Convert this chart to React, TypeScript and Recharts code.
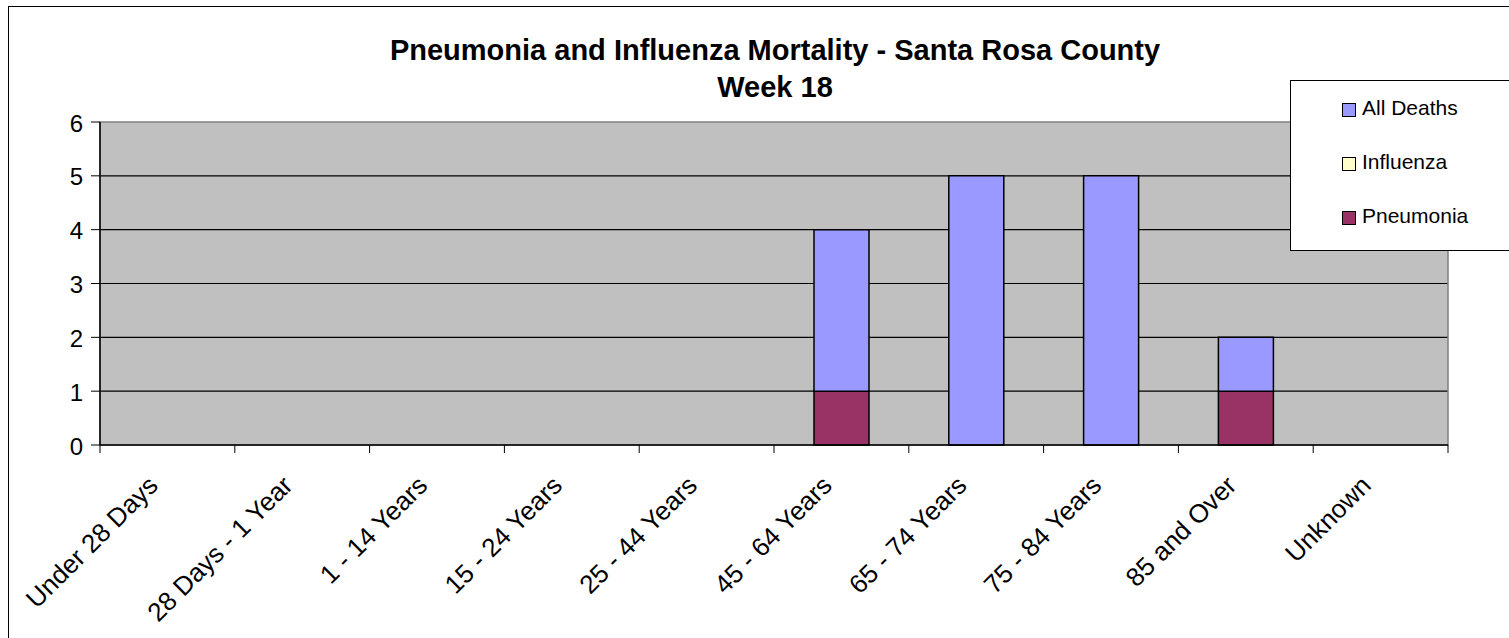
import { BarChart, Bar, XAxis, YAxis, CartesianGrid, ReferenceArea } from "recharts";

const categories = [
  "Under 28 Days",
  "28 Days - 1 Year",
  "1 - 14 Years",
  "15 - 24 Years",
  "25 - 44 Years",
  "45 - 64 Years",
  "65 - 74 Years",
  "75 - 84 Years",
  "85 and Over",
  "Unknown",
];
const pneumonia = [0, 0, 0, 0, 0, 1, 0, 0, 1, 0];
const influenza = [0, 0, 0, 0, 0, 0, 0, 0, 0, 0];
const allDeaths = [0, 0, 0, 0, 0, 3, 5, 5, 1, 0];
const yTicks = [0, 1, 2, 3, 4, 5, 6];

const series = [
  { key: "pneumonia", name: "Pneumonia", color: "#993366" },
  { key: "influenza", name: "Influenza", color: "#FFFFCC" },
  { key: "allDeaths", name: "All Deaths", color: "#9999FF" },
];

const data = categories.map((c, i) => ({
  name: c,
  pneumonia: pneumonia[i],
  influenza: influenza[i],
  allDeaths: allDeaths[i],
}));

const FONT = "Arial, 'Liberation Sans', sans-serif";

// category label + tick marks on the band edges (Excel style)
function CategoryTick(props: any) {
  const { x, y, payload, index, visibleTicksCount, width } = props;
  const half =
    payload && typeof payload.offset === "number" && payload.offset > 0
      ? payload.offset
      : width / visibleTicksCount / 2;
  const tx = x - 8;
  const ty = y + 42;
  const last = index === visibleTicksCount - 1;
  return (
    <g>
      <line x1={x - half} x2={x - half} y1={y} y2={y + 8} stroke="#000" strokeWidth={1} />
      {last && <line x1={x + half} x2={x + half} y1={y} y2={y + 8} stroke="#000" strokeWidth={1} />}
      <text
        x={tx}
        y={ty}
        transform={`rotate(-45, ${tx}, ${ty})`}
        textAnchor="end"
        fontSize={26}
        fontFamily={FONT}
        fill="#000"
      >
        {payload.value}
      </text>
    </g>
  );
}

function LegendBox() {
  const items = [...series].reverse();
  return (
    <div
      style={{
        position: "absolute",
        left: 1290,
        top: 80,
        width: 230,
        height: 171,
        border: "1.5px solid #000",
        background: "#fff",
        boxSizing: "border-box",
        fontFamily: FONT,
        fontSize: 21,
      }}
    >
      {items.map((it) => (
        <div
          key={it.key}
          style={{ display: "flex", alignItems: "center", height: 54, paddingLeft: 51 }}
        >
          <span
            style={{
              width: 12,
              height: 12,
              background: it.color,
              border: "1px solid #000",
              marginRight: 6,
              marginTop: 3,
            }}
          />
          {it.name}
        </div>
      ))}
    </div>
  );
}

export default function App() {
  return (
    <div
      style={{
        position: "absolute",
        left: 0,
        top: 0,
        width: 1509,
        height: 638,
        overflow: "hidden",
        background: "#fff",
      }}
    >
      <div
        style={{
          position: "absolute",
          left: 8,
          top: 6,
          width: 1600,
          height: 700,
          border: "1.5px solid #000",
        }}
      />
      <div
        style={{
          position: "absolute",
          left: 0,
          top: 32,
          width: 1550,
          textAlign: "center",
          fontFamily: FONT,
          fontWeight: "bold",
          fontSize: 29,
          lineHeight: "37px",
        }}
      >
        Pneumonia and Influenza Mortality - Santa Rosa County
        <br />
        Week 18
      </div>
      <div style={{ position: "absolute", left: 0, top: 0 }}>
        <BarChart
          width={1509}
          height={638}
          data={data}
          margin={{ top: 122, right: 61, bottom: 43, left: 40 }}
          barSize={55}
        >
          <CartesianGrid
            vertical={false}
            fill="#C0C0C0"
            fillOpacity={1}
            stroke="#000"
            strokeWidth={1.2}
            horizontalValues={[1, 2, 3, 4, 5]}
          />
          <ReferenceArea y1={0} y2={6} fill="none" stroke="#808080" strokeWidth={1.5} />
          <XAxis
            dataKey="name"
            interval={0}
            height={150}
            tickSize={0}
            tickMargin={0}
            axisLine={{ stroke: "#000", strokeWidth: 1.5 }}
            tickLine={false}
            tick={<CategoryTick />}
          />
          <YAxis
            domain={[0, 6]}
            ticks={yTicks}
            interval={0}
            width={60}
            tickSize={9}
            tickMargin={8}
            axisLine={{ stroke: "#000", strokeWidth: 1.5 }}
            tickLine={{ stroke: "#000" }}
            tick={{ fill: "#000", fontSize: 24, fontFamily: FONT, dy: 1 }}
          />
          {series.map((s) => (
            <Bar
              key={s.key}
              dataKey={s.key}
              name={s.name}
              stackId="a"
              fill={s.color}
              stroke="#000"
              strokeWidth={1.5}
              isAnimationActive={false}
            />
          ))}
        </BarChart>
      </div>
      <LegendBox />
    </div>
  );
}
